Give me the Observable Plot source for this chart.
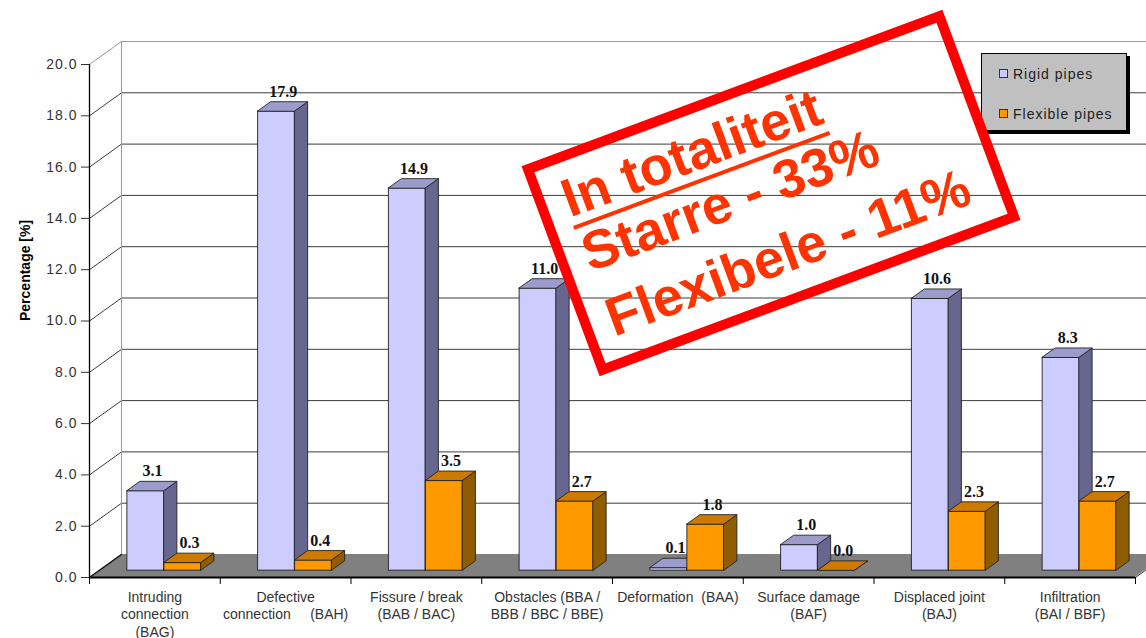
<!DOCTYPE html>
<html>
<head>
<meta charset="utf-8">
<script src="https://cdn.jsdelivr.net/npm/d3@7"></script>
<script src="https://cdn.jsdelivr.net/npm/@observablehq/plot@0.6"></script>
<style>
  html, body { margin: 0; padding: 0; background: #fff; overflow: hidden; }
  #chart { position: relative; width: 1146px; height: 638px; font-family: "Liberation Sans", Arial, sans-serif; }
  #chart svg.plot { position: absolute; left: 0; top: 0; }
  .cat-labels text { white-space: pre; letter-spacing: 0.1px; }
  .ytick-labels text { letter-spacing: 1px; }
  #legend {
    position: absolute; left: 981px; top: 53px; width: 146px; height: 78px;
    box-sizing: border-box; background: #c0c0c0; border: 1px solid #000;
    box-shadow: 3px 3px 0 #000; font-size: 14px; letter-spacing: 1px; color: #222;
  }
  #legend .item { position: absolute; left: 17px; height: 16px; line-height: 16px; white-space: nowrap; }
  #legend .swatch { display: inline-block; width: 7px; height: 7px; border: 1px solid #333; margin-right: 5px; vertical-align: 1px; }
  #stamp { position: absolute; left: 0; top: 0; pointer-events: none; }
</style>
</head>
<body>
<div id="chart"></div>
<script>
// Share of defects per damage code, rigid vs flexible sewer pipes (%)
const categories = [
  "Intruding\nconnection\n(BAG)",
  "Defective\nconnection     (BAH)",
  "Fissure / break\n(BAB / BAC)",
  "Obstacles (BBA /\nBBB / BBC / BBE)",
  "Deformation  (BAA)",
  "Surface damage\n(BAF)",
  "Displaced joint\n(BAJ)",
  "Infiltration\n(BAI / BBF)"
];
const rigidPipes    = [3.1, 17.9, 14.9, 11.0, 0.1, 1.0, 10.6, 8.3];
const flexiblePipes = [0.3, 0.4, 3.5, 2.7, 1.8, 0.0, 2.3, 2.7];
const seriesNames   = ["Rigid pipes", "Flexible pipes"];
const yTicks        = [0, 2, 4, 6, 8, 10, 12, 14, 16, 18, 20];
const yTitle        = "Percentage [%]";
const stampLines    = ["In totaliteit", "Starre - 33%", "Flexibele - 11%"];

// Layout of the pseudo-3D plot area
const W = 1146, H = 638;
const M = {left: 89, right: 11, top: 64, bottom: 61};
const pxPerCat = (W - M.left - M.right) / categories.length;
const pxPerPct = (H - M.top - M.bottom) / 20;

// depth of the floor/walls and of each bar, converted to data units
const wallDx = 32 / pxPerCat, wallDy = 23 / pxPerPct;
const barDx  = 13 / pxPerCat, barDy  = 9.3 / pxPerPct;
const barW   = 37 / pxPerCat;
// bars stand halfway into the floor depth (pixel shift)
const midDx = 9.5, midDy = -6.85;

const colors = {
  rigid:    {front: "#ccccff", top: "#9c9ccc", side: "#66668f"},
  flexible: {front: "#ff9900", top: "#cc7a00", side: "#8f5c00"}
};

const bars = categories.flatMap((c, i) => [
  {series: "rigid", i, v: rigidPipes[i], x1: i + 0.5 - barW, x2: i + 0.5},
  {series: "flexible", i, v: flexiblePipes[i], x1: i + 0.5, x2: i + 0.5 + barW}
]);
bars.forEach((b, k) => b.id = k);

const sideFaces = bars.flatMap(b => [
  {id: b.id, series: b.series, x: b.x2, y1: 0, y2: b.v},
  {id: b.id, series: b.series, x: b.x2 + barDx, y1: barDy, y2: b.v + barDy}
]);
const topFaces = bars.flatMap(b => [
  {id: b.id, series: b.series, y: b.v, x1: b.x1, x2: b.x2},
  {id: b.id, series: b.series, y: b.v + barDy, x1: b.x1 + barDx, x2: b.x2 + barDx}
]);

// gridlines run diagonally across the left wall, then along the back wall
const gridLines = yTicks.flatMap(t => [
  {t, x: 0, y: t},
  {t, x: wallDx, y: t + wallDy},
  {t, x: categories.length + wallDx + 1, y: t + wallDy}
]);
const floor = [
  {y: 0, x1: 0, x2: categories.length},
  {y: wallDy, x1: wallDx, x2: categories.length + wallDx}
];

const catLabels = categories.map((c, i) => ({x: i + 0.5, text: c}));

function barMarks(series) {
  const col = colors[series];
  const pick = d => d.series === series;
  return [
    Plot.rect(bars.filter(pick), {x1: "x1", x2: "x2", y1: 0, y2: "v", fill: col.front,
      stroke: "#222", strokeWidth: 0.9, dx: midDx, dy: midDy}),
    Plot.areaY(sideFaces.filter(pick), {x: "x", y1: "y1", y2: "y2", z: "id", fill: col.side,
      stroke: "#222", strokeWidth: 0.9, dx: midDx, dy: midDy}),
    Plot.areaX(topFaces.filter(pick), {y: "y", x1: "x1", x2: "x2", z: "id", fill: col.top,
      stroke: "#222", strokeWidth: 0.9, dx: midDx, dy: midDy})
  ];
}

const chart = Plot.plot({
  width: W, height: H,
  marginLeft: M.left, marginRight: M.right, marginTop: M.top, marginBottom: M.bottom,
  x: {domain: [0, categories.length], axis: null},
  y: {domain: [0, 20], axis: null},
  style: {fontFamily: "'Liberation Sans', Arial, sans-serif", fontSize: "14px", background: "transparent"},
  marks: [
    // walls
    Plot.line(gridLines.filter(d => d.t < 20), {x: "x", y: "y", z: "t", stroke: "#3c3c3c", strokeWidth: 1}),
    Plot.line(gridLines.filter(d => d.t === 20), {x: "x", y: "y", z: "t", stroke: "#9a9a9a", strokeWidth: 1}),
    Plot.ruleX([wallDx], {y1: wallDy, y2: 20 + wallDy, stroke: "#9a9a9a"}),
    // floor
    Plot.areaX(floor, {y: "y", x1: "x1", x2: "x2", fill: "#808080"}),
    Plot.line([{x: 0, y: 0}, {x: wallDx, y: wallDy}], {x: "x", y: "y", stroke: "#111", strokeWidth: 1.2}),
    Plot.line([{x: categories.length, y: 0}, {x: categories.length + wallDx, y: wallDy}], {x: "x", y: "y", stroke: "#333", strokeWidth: 1}),
    Plot.ruleY([0], {x1: 0, x2: categories.length, stroke: "#000", strokeWidth: 2}),
    Plot.ruleX(d3.range(categories.length + 1), {y1: 0, y2: -7 / pxPerPct, stroke: "#000"}),
    // value axis
    Plot.ruleX([0], {y1: 0, y2: 20, stroke: "#000", strokeWidth: 1.3}),
    Plot.axisY({ticks: yTicks, tickFormat: d => d.toFixed(1), tickSize: 8, tickPadding: 4,
      fontSize: 14, color: "#333", label: null}),
    Plot.text([yTitle], {frameAnchor: "left", dx: -64, rotate: -90, fontWeight: "bold",
      fontSize: 14, fill: "#000"}),
    // bars
    ...barMarks("rigid"),
    ...barMarks("flexible"),
    // values above the bars
    Plot.text(bars, {x: d => (d.x1 + d.x2) / 2, y: "v", text: d => d.v.toFixed(1),
      dx: midDx + 6.5, dy: midDy - 20, fontFamily: "'Liberation Serif', 'Times New Roman', serif",
      fontWeight: "bold", fontSize: 16, fill: "#111"}),
    // category labels
    Plot.text(catLabels, {x: "x", y: 0, text: "text", dy: 12, lineAnchor: "top", lineHeight: 1.25,
      fontSize: 14, fill: "#333", ariaLabel: "category labels"})
  ]
});
chart.classList.add("plot");
document.getElementById("chart").appendChild(chart);

// letter spacing of the axis and category texts
chart.querySelectorAll('g[aria-label="category labels"]').forEach(g => g.classList.add("cat-labels"));
chart.querySelectorAll('g[aria-label^="y-axis tick label"]').forEach(g => g.classList.add("ytick-labels"));

// legend
const legend = d3.select("#chart").append("div").attr("id", "legend");
const swatches = [colors.rigid.front, colors.flexible.front];
seriesNames.forEach((name, k) => {
  const item = legend.append("div").attr("class", "item").style("top", (12 + k * 40) + "px");
  item.append("span").attr("class", "swatch").style("background", swatches[k]);
  item.append("span").text(name);
});

// red stamp with the overall totals
const stamp = d3.select("#chart").append("svg").attr("id", "stamp")
  .attr("width", W).attr("height", H);
const g = stamp.append("g").attr("transform", "translate(771,193) rotate(-20.4)");
g.append("rect").attr("x", -219.5).attr("y", -107).attr("width", 439).attr("height", 214)
  .attr("fill", "none").attr("stroke", "#ff0000").attr("stroke-width", 10);
const baselines = [-47, 11, 80];
stampLines.forEach((line, k) => {
  const t = g.append("text").attr("x", -197).attr("y", baselines[k])
    .attr("font-family", "'Liberation Sans', Arial, sans-serif").attr("font-weight", "bold")
    .attr("font-size", 54).attr("fill", "#ff3300").text(line);
  if (k === 0) {
    const len = t.node().getComputedTextLength();
    g.append("rect").attr("x", -197).attr("y", baselines[k] + 9).attr("width", len).attr("height", 4)
      .attr("fill", "#ff3300");
  }
});
</script>
</body>
</html>
